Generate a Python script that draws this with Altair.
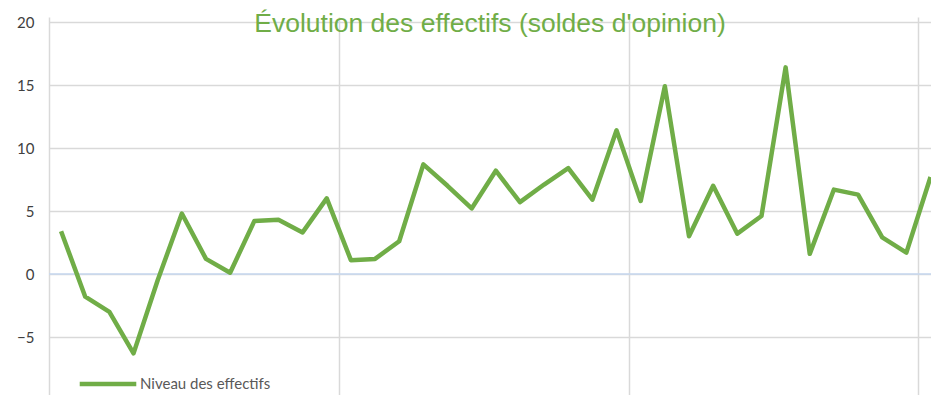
import altair as alt
import pandas as pd

# Niveau des effectifs (soldes d'opinion), 37 périodes consécutives
periods = list(range(37))
values = [3.4, -1.8, -3.0, -6.3, -0.5, 4.8, 1.2, 0.1, 4.2, 4.3, 3.3, 6.0,
          1.1, 1.2, 2.6, 8.7, 7.0, 5.2, 8.2, 5.7, 7.1, 8.4, 5.9, 11.4,
          5.8, 14.9, 3.0, 7.0, 3.2, 4.6, 16.4, 1.6, 6.7, 6.3, 2.9, 1.7, 7.7]
series_name = "Niveau des effectifs"
y_ticks = [-10, -5, 0, 5, 10, 15, 20]
x_grid = [-0.5, 11.5, 23.5, 35.5]

df = pd.DataFrame({"period": periods, "value": values, "serie": series_name})
zero_df = pd.DataFrame({"v": [0]})

GREEN = "#70AD47"
GRID = "#D9D9D9"

# the plot continues slightly past the right and bottom edges of the picture
x_scale = alt.Scale(domain=[-0.5, 36.5], range=[0, 893.6], nice=False, zero=False)
y_scale = alt.Scale(domain=[-10, 20], range=[378, 0], nice=False)

zero_rule = alt.Chart(zero_df).mark_rule(color="#C6D7EF", strokeWidth=1.5).encode(
    y=alt.Y("v:Q", scale=y_scale)
)

line = alt.Chart(df).mark_line(strokeWidth=4.5, strokeJoin="round", strokeCap="butt").encode(
    x=alt.X("period:Q", scale=x_scale,
            axis=alt.Axis(values=x_grid, labels=False, ticks=False, domain=False,
                          grid=True, gridColor=GRID, gridWidth=1.5, title=None)),
    y=alt.Y("value:Q", scale=y_scale,
            axis=alt.Axis(values=y_ticks, ticks=False, domain=False, grid=True,
                          gridColor=GRID, gridWidth=1.5, title=None,
                          labelFont="Lato", labelFontSize=15, labelColor="#404040",
                          labelPadding=15)),
    color=alt.Color("serie:N", scale=alt.Scale(range=[GREEN]),
                    legend=alt.Legend(title=None, orient="none", legendX=28, legendY=331,
                                      symbolType="stroke", symbolSize=3200,
                                      symbolStrokeWidth=4.5, labelFont="Lato",
                                      labelFontSize=15, labelColor="#595959",
                                      labelOffset=1)),
)

chart = alt.layer(zero_rule, line).properties(
    width=882,
    height=373,
    autosize=alt.AutoSizeParams(type="none"),
    padding={"left": 41, "top": 14, "right": 0, "bottom": 0},
    title=alt.TitleParams(
        text="Évolution des effectifs (soldes d'opinion)",
        font="Liberation Sans", fontSize=26.5, fontWeight="normal", color=GREEN,
        anchor="middle", baseline="alphabetic", offset=-43,
    ),
).configure_view(stroke=None)

chart.save("out.html", embed_options={"renderer": "svg", "actions": False})
